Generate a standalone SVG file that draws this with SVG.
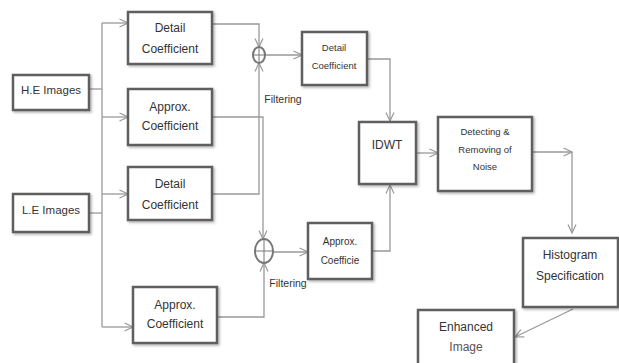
<svg xmlns="http://www.w3.org/2000/svg" width="619" height="363" viewBox="0 0 619 363">
<defs>
<marker id="ah" viewBox="0 0 10 10" refX="9.5" refY="5" markerWidth="10" markerHeight="10" markerUnits="userSpaceOnUse" orient="auto">
<path d="M1,1 L9.5,5 L1,9" fill="none" stroke="#999" stroke-width="1.2"/>
</marker>
<filter id="sh" x="-10%" y="-10%" width="130%" height="130%">
<feDropShadow dx="1.5" dy="1.5" stdDeviation="1.2" flood-color="#000" flood-opacity="0.3"/>
</filter>
<style>
.box{fill:#fff;stroke:#5f5f5f;stroke-width:2.5;filter:url(#sh)}
.t{font-family:"Liberation Sans",Arial,sans-serif;fill:#333;text-anchor:middle}
.c{fill:none;stroke:#999;stroke-width:1.3}
.a{marker-end:url(#ah)}
.op{fill:#fff;stroke:#777;stroke-width:2}
</style>
</defs>
<rect width="619" height="363" fill="#fff"/>
<g id="connectors">
<path class="c" d="M89,89 H102"/>
<path class="c" d="M89,213 H102"/>
<path class="c" d="M102,23 V327"/>
<path class="c a" d="M102,23 H128"/>
<path class="c a" d="M102,117 H128"/>
<path class="c a" d="M102,194 H128"/>
<path class="c a" d="M102,327 H133"/>
<path class="c a" d="M212,24 H259 V47"/>
<path class="c a" d="M212,194 H259 V63"/>
<path class="c a" d="M212,117 H263 V239"/>
<path class="c a" d="M217,317 H264 V263"/>
<path class="c a" d="M265,55 H302"/>
<path class="c a" d="M273,252 H308"/>
<path class="c a" d="M367,59 H390 V121"/>
<path class="c a" d="M372,251 H390 V185"/>
<path class="c a" d="M416,153 H438"/>
<path class="c a" d="M532,152 H572"/>
<path class="c a" d="M572,152 V233"/>
<path class="c a" d="M573,309 L515,337"/>
</g>
<g id="op1">
<ellipse class="op" cx="259" cy="55" rx="6" ry="8"/>
<path d="M253,55 H265 M259,47 V63" stroke="#777" stroke-width="1"/>
</g>
<g id="op2">
<ellipse class="op" cx="264" cy="251" rx="9" ry="12"/>
<path d="M255,251 H273 M264,239 V263" stroke="#777" stroke-width="1"/>
</g>
<g id="he">
<rect class="box" x="13" y="75" width="76" height="35"/>
<text class="t" x="51" y="94" font-size="11.5">H.E Images</text>
</g>
<g id="le">
<rect class="box" x="13" y="194" width="76" height="38"/>
<text class="t" x="51" y="214" font-size="11.5">L.E Images</text>
</g>
<g id="detail1">
<rect class="box" x="128" y="12" width="84" height="52"/>
<text class="t" x="170" y="32" font-size="12">Detail</text>
<text class="t" x="170" y="53" font-size="12">Coefficient</text>
</g>
<g id="approx1">
<rect class="box" x="128" y="89" width="84" height="56"/>
<text class="t" x="170" y="111" font-size="12">Approx.</text>
<text class="t" x="170" y="130" font-size="12">Coefficient</text>
</g>
<g id="detail2">
<rect class="box" x="128" y="167" width="84" height="53"/>
<text class="t" x="170" y="188" font-size="12">Detail</text>
<text class="t" x="170" y="209" font-size="12">Coefficient</text>
</g>
<g id="approx2">
<rect class="box" x="133" y="287" width="84" height="56"/>
<text class="t" x="175" y="309" font-size="12">Approx.</text>
<text class="t" x="175" y="328" font-size="12">Coefficient</text>
</g>
<g id="filter1">
<text class="t" x="283" y="103" font-size="10.5">Filtering</text>
</g>
<g id="filter2">
<text class="t" x="288" y="287" font-size="10.5">Filtering</text>
</g>
<g id="detail3">
<rect class="box" x="302" y="32" width="65" height="53"/>
<text class="t" x="334" y="51" font-size="9.5">Detail</text>
<text class="t" x="334" y="69" font-size="9.5">Coefficient</text>
</g>
<g id="approx3">
<rect class="box" x="308" y="223" width="64" height="56"/>
<text class="t" x="340" y="245" font-size="10">Approx.</text>
<text class="t" x="340" y="264" font-size="10">Coefficie</text>
</g>
<g id="idwt">
<rect class="box" x="359" y="122" width="57" height="62"/>
<text class="t" x="387" y="149" font-size="12">IDWT</text>
</g>
<g id="detect">
<rect class="box" x="438" y="117" width="94" height="74"/>
<text class="t" x="485" y="135" font-size="9.5">Detecting &amp;</text>
<text class="t" x="485" y="153" font-size="9.5">Removing of</text>
<text class="t" x="485" y="170" font-size="9.5">Noise</text>
</g>
<g id="histogram">
<rect class="box" x="523" y="238" width="95" height="69"/>
<text class="t" x="570" y="259" font-size="12">Histogram</text>
<text class="t" x="570" y="280" font-size="12">Specification</text>
</g>
<g id="enhanced">
<rect class="box" x="418" y="310" width="96" height="60"/>
<text class="t" x="466" y="331" font-size="12">Enhanced</text>
<text class="t" x="466" y="351" font-size="12" fill="#555" style="fill:#555">Image</text>
</g>
</svg>
